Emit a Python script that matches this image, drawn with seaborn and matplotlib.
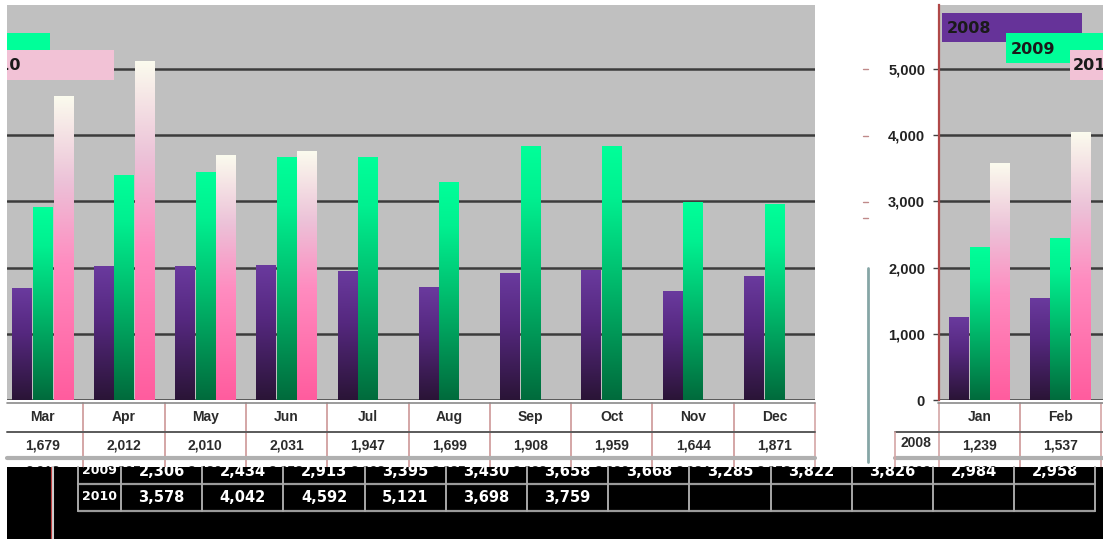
import numpy as np
import pandas as pd
import matplotlib
matplotlib.use("Agg")
import matplotlib.pyplot as plt
from matplotlib.patches import Rectangle
from matplotlib.colors import LinearSegmentedColormap
import seaborn as sns

# ---- data -------------------------------------------------------------
months = ["Jan", "Feb", "Mar", "Apr", "May", "Jun",
          "Jul", "Aug", "Sep", "Oct", "Nov", "Dec"]
years = ["2008", "2009", "2010"]
sales_2008 = [1239, 1537, 1679, 2012, 2010, 2031, 1947, 1699, 1908, 1959, 1644, 1871]
sales_2009 = [2306, 2434, 2913, 3395, 3430, 3658, 3668, 3285, 3822, 3826, 2984, 2958]
sales_2010 = [3578, 4042, 4592, 5121, 3698, 3759,
              np.nan, np.nan, np.nan, np.nan, np.nan, np.nan]
y_ticks = [0, 1000, 2000, 3000, 4000, 5000]

series = {"2008": sales_2008, "2009": sales_2009, "2010": sales_2010}
df = pd.DataFrame(
    [(m, y, v) for y in years for m, v in zip(months, series[y])],
    columns=["month", "year", "value"],
).dropna()

# ---- styling ----------------------------------------------------------
sns.set_style("white")
plt.rcParams["font.family"] = ["Liberation Sans", "DejaVu Sans"]

W, H = 1103, 539
PLOT_BG = "#c0c0c0"
GRID = "#3c3c3c"
solid = {"2008": "#663399", "2009": "#00e68a", "2010": "#ff80b8"}
ramps = {
    "2008": LinearSegmentedColormap.from_list(
        "r08", [(0, "#2a1436"), (0.6, "#55287f"), (1, "#6a3a9e")]),
    "2009": LinearSegmentedColormap.from_list(
        "r09", [(0, "#006b3c"), (0.5, "#00c070"), (0.8, "#00f090"), (1, "#00ff99")]),
    "2010": LinearSegmentedColormap.from_list(
        "r10", [(0, "#ff5c9e"), (0.45, "#ff8cc0"), (0.72, "#ecc2d8"), (1, "#fbfbee")]),
}
legend_fill = {"2008": "#663399", "2009": "#00ff99", "2010": "#f2c2d6"}
YMAX = 5967
grad = np.linspace(0, 1, 256).reshape(-1, 1)


def fig_rect(x0, y0, x1, y1):
    return [x0 / W, 1 - y1 / H, (x1 - x0) / W, (y1 - y0) / H]


fig = plt.figure(figsize=(W / 100, H / 100), dpi=100, facecolor="white")


def draw_bars(ax, xlim):
    sns.barplot(data=df, x="month", y="value", hue="year", order=months,
                hue_order=years, palette=solid, width=0.76, saturation=1,
                errorbar=None, legend=False, ax=ax)
    for year, cont in zip(years, ax.containers):
        for bar in cont.patches:
            h = bar.get_height()
            if not np.isfinite(h) or h <= 0:
                continue
            x, w = bar.get_x(), bar.get_width()
            ax.imshow(grad, cmap=ramps[year], origin="lower", aspect="auto",
                      extent=[x + 0.006, x + w - 0.006, 0, h], zorder=2,
                      interpolation="bilinear")
            bar.set_visible(False)
    ax.set_facecolor(PLOT_BG)
    ax.set_xlim(*xlim)
    ax.set_ylim(0, YMAX)
    ax.set_yticks(y_ticks)
    ax.yaxis.grid(True, color=GRID, lw=1.8)
    ax.xaxis.grid(False)
    ax.set_axisbelow(True)
    ax.set_xticks([])
    ax.set_xlabel("")
    ax.set_ylabel("")
    for s in ax.spines.values():
        s.set_visible(False)


# main panel: Mar-Dec
ax_main = fig.add_axes(fig_rect(7, 5, 815, 400))
draw_bars(ax_main, (1.56, 11.5))
ax_main.tick_params(axis="y", left=False, labelleft=False)

# side panel with the value axis: Jan-Feb
ax_side = fig.add_axes(fig_rect(939, 5, 1103, 400))
draw_bars(ax_side, (-0.5, 1.53))
ax_side.spines["left"].set_visible(True)
ax_side.spines["left"].set_color("#b04848")
ax_side.spines["left"].set_linewidth(1.6)
ax_side.set_yticklabels([f"{v:,}" for v in y_ticks])
ax_side.tick_params(axis="y", left=True, direction="out", length=4, width=1,
                    color="#404040", pad=6, labelsize=10.5, labelcolor="#222222")
for lab in ax_side.get_yticklabels():
    lab.set_fontweight("bold")

fig.canvas.draw()


def col_geom(ax, i):
    """pixel centre and half width of category column i"""
    x0 = ax.transData.transform((i - 0.5, 0))[0]
    x1 = ax.transData.transform((i + 0.5, 0))[0]
    return (x0 + x1) / 2, (x1 - x0) / 2


# ---- overlay: data table, legend, band -------------------------------
ov = fig.add_axes([0, 0, 1, 1], zorder=10)
ov.set_xlim(0, W)
ov.set_ylim(H, 0)
ov.axis("off")

TXT = "#2b2b2b"
SEP = "#d4a6a6"
tfont = dict(family="Liberation Sans", weight="bold", size=10, color=TXT,
             ha="center", va="center")

# upper table: month headers and 2008 / 2009 rows
for ax, idx, span in ((ax_main, range(2, 12), (7, 815)),
                      (ax_side, range(0, 2), (938, 1103))):
    for i in idx:
        cx, hw = col_geom(ax, i)
        ov.text(cx, 417, months[i], **tfont)
        ov.text(cx, 445, f"{sales_2008[i]:,}", **tfont)
        ov.text(cx, 472, f"{sales_2009[i]:,}", **tfont)
        for xe in (cx - hw, cx + hw):
            if span[0] <= xe <= span[1] + 1:
                ov.plot([xe, xe], [403, 467], color=SEP, lw=1.2, zorder=1)
    ov.plot(span, [403, 403], color="#8a8a8a", lw=1.2)
    ov.plot(span, [432, 432], color="#5a5a5a", lw=1.4)
    ov.plot(span, [458, 458], color="#b0b0b0", lw=3)

# row-label column beside the side panel
ov.plot([895, 938], [432, 432], color="#5a5a5a", lw=1.4)
ov.plot([895, 938], [458, 458], color="#b0b0b0", lw=3)
ov.plot([895, 895], [432, 467], color=SEP, lw=1.2)
ov.text(916, 443, "2008", **tfont)
ov.text(916, 472, "2009", **tfont)

# stray axis marks and rule
ov.plot([868, 868], [268, 462], color="#86a6a6", lw=2)
for yy in (69, 136, 202, 218):
    ov.plot([863, 868], [yy, yy], color="#c08a8a", lw=1)

# legend boxes (the last ones wrap across the right edge)
clip = Rectangle((7, 0), W - 7, H, transform=ov.transData, fill=False, visible=False)
ov.add_patch(clip)
legend_boxes = {"2008": (942, 13, 29, 5), "2009": (1006, 33, 30, 5),
                "2010": (1070, 50, 30, 3)}
for year in years:
    bx, by, bh, tx = legend_boxes[year]
    shifts = (0, -1096) if bx + 140 > W else (0,)
    for shift in shifts:
        r = Rectangle((bx + shift, by), 140, bh, facecolor=legend_fill[year],
                      edgecolor="none", zorder=3)
        ov.add_patch(r)
        r.set_clip_path(clip)
    text_shifts = (0, -1096) if year == "2010" else (0,)
    for shift in text_shifts:
        t = ov.text(bx + shift + tx, by + bh / 2 + 1, year, family="DejaVu Sans",
                    weight="bold", size=11.5, color="#1a1a1a", ha="left",
                    va="center", zorder=4, clip_on=True)
        t.set_clip_path(clip)

# dark band with the lower rows of the table
band = Rectangle((7, 467), W - 7, H - 467, facecolor="black", edgecolor="none", zorder=5)
ov.add_patch(band)
ov.plot([52, 52], [467, 539], color="#d0d0d0", lw=2.2, zorder=6)
ov.plot([50.5, 50.5], [467, 539], color="#c04040", lw=0.8, zorder=6)
band_left, label_right, col_w = 78, 121, 81.2
band_right = label_right + 12 * col_w
for yy in (484, 511):
    ov.plot([band_left, band_right], [yy, yy], color="#9a9a9a", lw=1.6, zorder=6)
for xx in [band_left] + [label_right + k * col_w for k in range(13)]:
    ov.plot([xx, xx], [467, 511], color="#a8a8a8", lw=1.4, zorder=6)
bfont = dict(family="DejaVu Sans", weight="bold", color="white",
             ha="center", va="center", zorder=7, clip_on=True)
for row_y, year in ((471, "2009"), (497, "2010")):
    t = ov.text((band_left + label_right) / 2, row_y, year, size=9, **bfont)
    t.set_clip_path(band)
    for i, v in enumerate(series[year]):
        if np.isfinite(v):
            t = ov.text(label_right + (i + 0.5) * col_w, row_y, f"{int(v):,}",
                        size=10.5, **bfont)
            t.set_clip_path(band)

fig.savefig("out.png", dpi=100, facecolor="white")
